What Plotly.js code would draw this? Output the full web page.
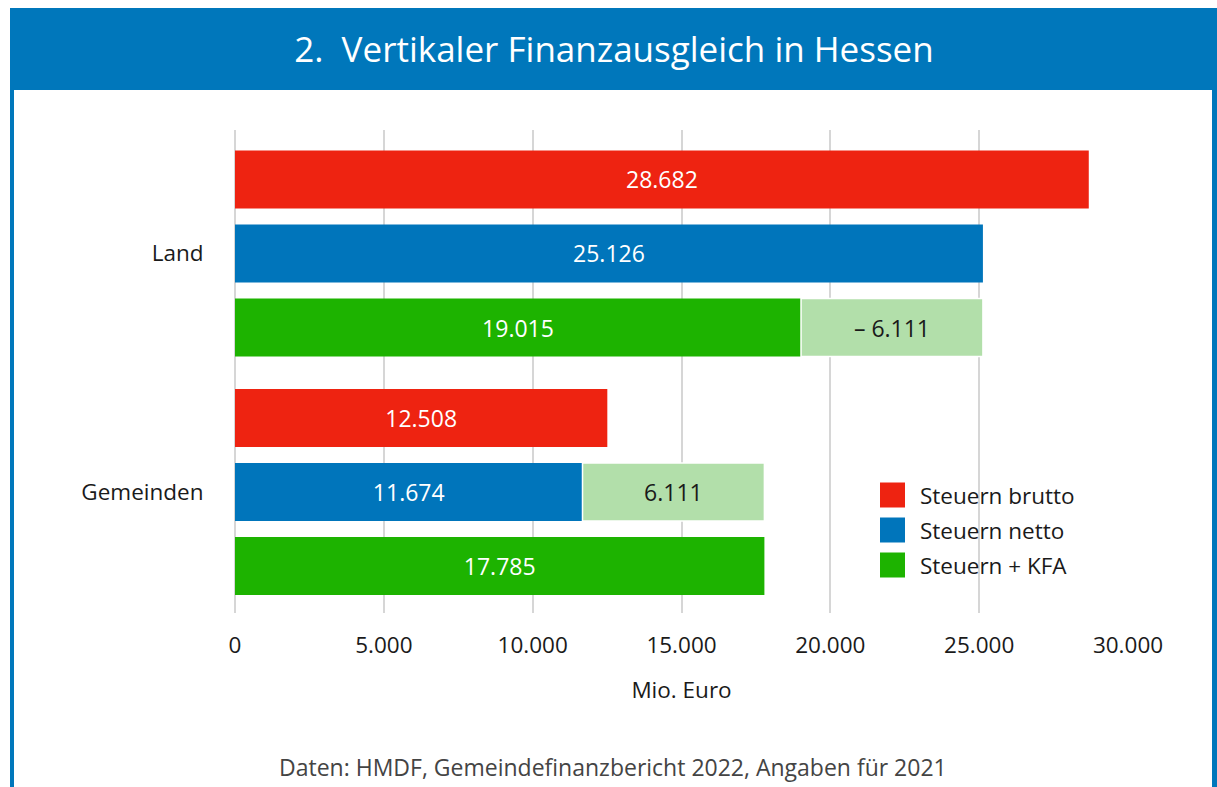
<!DOCTYPE html>
<html>
<head>
<meta charset="utf-8">
<script src="https://cdn.plot.ly/plotly-3.0.1.min.js"></script>
<style>html,body{margin:0;padding:0;background:#fff;}#chart{width:1217px;height:787px;}</style>
</head>
<body>
<div id="chart"></div>
<script>
// ---- data ----
const categories = ['Land', 'Gemeinden'];
const seriesNames = ['Steuern brutto', 'Steuern netto', 'Steuern + KFA'];
const steuernBrutto = [28682, 12508];
const steuernNetto = [25126, 11674];
const steuernKFA = [19015, 17785];
const kfaTransfer = [6111, 6111];          // Land gibt ab, Gemeinden erhalten
const xTickVals = [0, 5000, 10000, 15000, 20000, 25000, 30000];
const xTickText = ['0', '5.000', '10.000', '15.000', '20.000', '25.000', '30.000'];

const colors = ['#EE2311', '#0075BB', '#1DB300'];
const lightGreen = '#B2DFAA';
const FONT = '"Open Sans", "Noto Sans", sans-serif';
const FS = 22.5;
const BFS = 23;

const main = [steuernBrutto, steuernNetto, steuernKFA];
const groups = ['brutto', 'netto', 'kfa'];
const traces = main.map((vals, i) => ({
  type: 'bar', orientation: 'h', name: seriesNames[i],
  y: categories, x: vals, offsetgroup: groups[i],
  marker: {color: colors[i]},
  texttemplate: '%{x:,.0f}', textposition: 'inside', insidetextanchor: 'middle',
  textfont: {color: '#ffffff', size: BFS, family: FONT},
  showlegend: false, hoverinfo: 'x'
}));
traces.push({
  type: 'bar', orientation: 'h', name: 'KFA Land',
  y: [categories[0]], x: [kfaTransfer[0]], base: [steuernKFA[0]], offsetgroup: 'kfa',
  marker: {color: lightGreen, line: {color: '#ffffff', width: 1.5}},
  texttemplate: '\u2013 %{x:,.0f}', textposition: 'inside', insidetextanchor: 'middle',
  textfont: {color: '#1a1a1a', size: BFS, family: FONT}, showlegend: false
});
traces.push({
  type: 'bar', orientation: 'h', name: 'KFA Gemeinden',
  y: [categories[1]], x: [kfaTransfer[1]], base: [steuernNetto[1]], offsetgroup: 'netto',
  marker: {color: lightGreen, line: {color: '#ffffff', width: 1.5}},
  texttemplate: '%{x:,.0f}', textposition: 'inside', insidetextanchor: 'middle',
  textfont: {color: '#1a1a1a', size: BFS, family: FONT}, showlegend: false
});

// ---- frame / legend helpers (paper coords) ----
const L = 235, R = 1128, T = 130, B = 613;
const px = v => (v - L) / (R - L);
const py = v => (B - v) / (B - T);
const blue = '#0077BB';
const shapes = [
  {type: 'rect', xref: 'paper', yref: 'paper', x0: px(10), x1: px(1217), y0: py(90), y1: py(8), fillcolor: blue, line: {width: 0}, layer: 'below'},
  {type: 'rect', xref: 'paper', yref: 'paper', x0: px(10), x1: px(14), y0: py(787), y1: py(89), fillcolor: blue, line: {width: 0}, layer: 'below'},
  {type: 'rect', xref: 'paper', yref: 'paper', x0: px(1212), x1: px(1217), y0: py(787), y1: py(89), fillcolor: blue, line: {width: 0}, layer: 'below'}
];
const annotations = [];
const legY = [495, 530, 565];
seriesNames.forEach((n, i) => {
  shapes.push({type: 'rect', xref: 'paper', yref: 'paper', x0: px(880), x1: px(905),
    y0: py(legY[i] + 12.5), y1: py(legY[i] - 12.5), fillcolor: colors[i], line: {width: 0}});
  annotations.push({xref: 'paper', yref: 'paper', x: px(918), y: py(legY[i]), xanchor: 'left', yanchor: 'middle',
    text: n, showarrow: false, font: {size: FS, color: '#1a1a1a', family: FONT}});
});
annotations.push({xref: 'paper', yref: 'paper', x: px(613), y: py(767), xanchor: 'center', yanchor: 'middle',
  text: 'Daten: HMDF, Gemeindefinanzbericht 2022, Angaben f\u00fcr 2021', showarrow: false,
  font: {size: 23, color: '#444444', family: FONT}});

const layout = {
  width: 1217, height: 787,
  margin: {l: L, r: 1217 - R, t: T, b: 787 - B},
  paper_bgcolor: '#ffffff', plot_bgcolor: '#ffffff',
  separators: ',.',
  font: {family: FONT, size: FS, color: '#1a1a1a'},
  title: {text: '2.\u00a0 Vertikaler Finanzausgleich in Hessen', x: 614 / 1217, xref: 'container', xanchor: 'center',
    y: 1 - 50 / 787, yref: 'container', yanchor: 'middle', font: {size: 35, color: '#ffffff', family: FONT}},
  barmode: 'group', bargap: 0.069, bargroupgap: 0.216,
  showlegend: false,
  xaxis: {range: [0, 30000], tickvals: xTickVals, ticktext: xTickText, showgrid: true, gridcolor: '#d6d6d6', gridwidth: 2,
    zeroline: true, zerolinecolor: '#d6d6d6', zerolinewidth: 2, showline: false,
    ticks: 'outside', ticklen: 12, tickcolor: 'rgba(0,0,0,0)',
    tickfont: {size: FS, color: '#1a1a1a'},
    title: {text: 'Mio. Euro', standoff: 23, font: {size: FS, color: '#1a1a1a'}}, fixedrange: true},
  yaxis: {type: 'category', range: [1.5073, -0.5178], showgrid: false, zeroline: false, showline: false,
    ticks: 'outside', ticklen: 26, tickcolor: 'rgba(0,0,0,0)', tickfont: {size: FS, color: '#1a1a1a'}, fixedrange: true},
  shapes: shapes, annotations: annotations
};
Plotly.newPlot('chart', traces, layout, {displayModeBar: false, staticPlot: true});
</script>
</body>
</html>
